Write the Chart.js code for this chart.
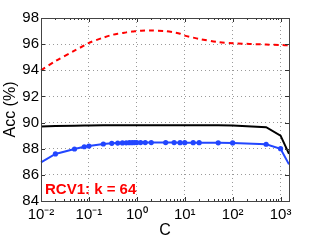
<!DOCTYPE html>
<html>
<head>
<meta charset="utf-8">
<script src="https://cdn.jsdelivr.net/npm/chart.js@4"></script>
<style>
  html, body { margin: 0; padding: 0; background: white; }
  #wrap { width: 319px; height: 240px; }
</style>
</head>
<body>
<div id="wrap"><canvas id="myChart" width="319" height="240"></canvas></div>
<script>
// Valores de C (eje x, escala log)
const cValues = [0.01, 0.02, 0.05, 0.08, 0.1, 0.2, 0.3, 0.4, 0.5, 0.6, 0.7, 0.8, 0.9, 1, 1.2, 1.5, 2, 4, 6, 8, 10, 15, 20, 50, 100, 500, 1000, 1500];

// Series
const redAcc = [94.0, 94.7, 95.5, 95.9, 96.1, 96.5, 96.7, 96.8, 96.85, 96.9, 96.93, 96.96, 96.98, 97.0, 97.02, 97.04, 97.05, 97.0, 96.9, 96.8, 96.65, 96.5, 96.4, 96.15, 96.07, 95.97, 95.93, 95.92];
const blackAcc = [89.7, 89.73, 89.76, 89.77, 89.78, 89.79, 89.8, 89.8, 89.8, 89.8, 89.8, 89.8, 89.8, 89.8, 89.8, 89.8, 89.8, 89.8, 89.8, 89.8, 89.8, 89.8, 89.8, 89.79, 89.78, 89.65, 89.0, 87.6];
const blueAcc = [86.95, 87.6, 87.98, 88.15, 88.2, 88.36, 88.41, 88.43, 88.44, 88.45, 88.46, 88.46, 88.47, 88.47, 88.47, 88.47, 88.47, 88.47, 88.47, 88.46, 88.46, 88.46, 88.46, 88.45, 88.44, 88.34, 88.0, 86.8];

// Marcas del eje x y sus etiquetas
const xTicks = [0.01, 0.1, 1, 10, 100, 1000];
const xTickLabels = ["10\u207B\u00B2", "10\u207B\u00B9", "10\u2070", "10\u00B9", "10\u00B2", "10\u00B3"];
const yTicks = [84, 86, 88, 90, 92, 94, 96, 98];

const toPoints = (ys) => cValues.map((c, i) => ({ x: c, y: ys[i] }));
const blueRadius = cValues.map((c, i) => (i === 0 || i === cValues.length - 1) ? 0 : 2.6);

// Plugin: caja, marcas internas y texto
const boxPlugin = {
  id: "boxPlugin",
  afterDatasetsDraw(chart) {
    const ctx = chart.ctx;
    const a = chart.chartArea;
    const xs = chart.scales.x;
    const ys = chart.scales.y;
    ctx.save();
    ctx.strokeStyle = "#333";
    ctx.lineWidth = 1;
    // marcas menores y mayores del eje x
    for (let d = -2; d <= 3; d++) {
      for (let m = 1; m <= 9; m++) {
        const v = m * Math.pow(10, d);
        if (v < 0.01 || v > 1500) continue;
        const px = Math.round(xs.getPixelForValue(v)) + 0.5;
        const len = m === 1 ? 4 : 2;
        ctx.beginPath();
        ctx.moveTo(px, a.bottom); ctx.lineTo(px, a.bottom - len);
        ctx.moveTo(px, a.top); ctx.lineTo(px, a.top + len);
        ctx.stroke();
      }
    }
    yTicks.forEach((v) => {
      const py = Math.round(ys.getPixelForValue(v)) + 0.5;
      ctx.beginPath();
      ctx.moveTo(a.left, py); ctx.lineTo(a.left + 4, py);
      ctx.moveTo(a.right, py); ctx.lineTo(a.right - 4, py);
      ctx.stroke();
    });
    ctx.strokeStyle = "#444";
    ctx.strokeRect(Math.round(a.left) + 0.5, Math.round(a.top) + 0.5, Math.round(a.right - a.left), Math.round(a.bottom - a.top));
    // texto de la figura
    ctx.fillStyle = "#ff0000";
    ctx.font = "bold 15px 'Liberation Sans', Arial, sans-serif";
    ctx.textBaseline = "middle";
    ctx.textAlign = "left";
    ctx.fillText("RCV1: k = 64", a.left + 4, 190);
    ctx.restore();
  }
};

const fontFam = "'Liberation Sans', Arial, sans-serif";

const config = {
  type: "line",
  data: {
    datasets: [
      {
        data: toPoints(redAcc),
        borderColor: "#ff0000",
        borderWidth: 2,
        borderDash: [5, 4],
        pointRadius: 0,
        tension: 0.3,
        fill: false
      },
      {
        data: toPoints(blackAcc),
        borderColor: "#000000",
        borderWidth: 2,
        pointRadius: 0,
        fill: false
      },
      {
        data: toPoints(blueAcc),
        borderColor: "#2246ff",
        backgroundColor: "#2246ff",
        borderWidth: 2,
        pointRadius: blueRadius,
        pointBorderWidth: 0,
        fill: false
      }
    ]
  },
  options: {
    responsive: false,
    animation: false,
    clip: false,
    layout: { padding: { left: 0, right: 30, top: 18, bottom: 0 } },
    plugins: { legend: { display: false }, tooltip: { enabled: false } },
    scales: {
      x: {
        type: "logarithmic",
        min: 0.01,
        max: 1500,
        afterBuildTicks: (scale) => { scale.ticks = xTicks.map((v) => ({ value: v })); },
        afterFit: (scale) => { scale.height = 39; },
        ticks: {
          color: "#000",
          font: { family: fontFam, size: 15 },
          padding: 5,
          maxRotation: 0,
          autoSkip: false,
          callback: (value) => {
            const i = xTicks.indexOf(value);
            return i >= 0 ? xTickLabels[i] : "";
          }
        },
        grid: {
          color: "#9a9a9a",
          borderDash: [1, 3],
          drawTicks: false,
          lineWidth: 1
        },
        border: { display: false, dash: [1, 3] },
        title: {
          display: true,
          text: "C",
          color: "#000",
          font: { family: fontFam, size: 16 },
          padding: { top: 0, bottom: 0 }
        }
      },
      y: {
        min: 84,
        max: 98,
        afterBuildTicks: (scale) => { scale.ticks = yTicks.map((v) => ({ value: v })); },
        afterFit: (scale) => { scale.width = 41; },
        ticks: {
          color: "#000",
          font: { family: fontFam, size: 15 },
          padding: 2
        },
        grid: {
          color: "#9a9a9a",
          borderDash: [1, 3],
          drawTicks: false,
          lineWidth: 1
        },
        border: { display: false, dash: [1, 3] },
        title: {
          display: true,
          text: "Acc (%)",
          color: "#000",
          font: { family: fontFam, size: 16 },
          padding: { top: 1, bottom: 0 }
        }
      }
    }
  },
  plugins: [boxPlugin]
};

const myChart = new Chart(document.getElementById("myChart"), config);
</script>
</body>
</html>
